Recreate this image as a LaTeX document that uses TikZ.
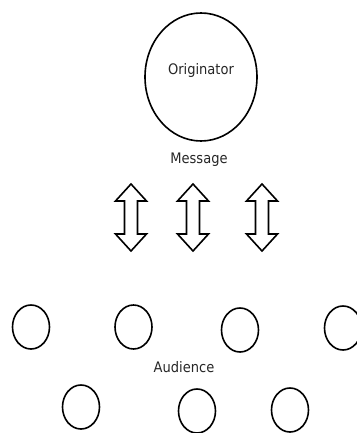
\documentclass[tikz,border=0pt]{standalone}
\usepackage{fontspec}
\setmainfont{DejaVu Sans Condensed}
\usetikzlibrary{shapes.geometric}
\tikzset{
  x=1pt, y=-1pt,
  lbl/.style={font=\fontsize{14.5}{16}\selectfont, inner sep=0pt, text=black!85},
  bigell/.style={draw, line width=1.6pt, ellipse, minimum width=112pt, minimum height=128pt, inner sep=0pt},
  aud/.style={draw, line width=1.6pt, ellipse, minimum width=37pt, minimum height=44pt, inner sep=0pt},
  arr/.style={draw, line width=1.6pt, line join=miter},
  dblarrow/.pic={\draw[arr] (0,-33.5) -- (15.5,-16.5) -- (6.5,-16.5) -- (6.5,16.5) -- (15.5,16.5) -- (0,33.5) -- (-15.5,16.5) -- (-6.5,16.5) -- (-6.5,-16.5) -- (-15.5,-16.5) -- cycle;}
}
\begin{document}
\begin{tikzpicture}
\useasboundingbox (0,0) rectangle (356,433);
\node[bigell] (orig) at (201,77) {};
\node[lbl] (origtxt) at (201,71) {Originator};
\node[lbl] (msg) at (199,160) {Message};
\pic (a1) at (131,217.5) {dblarrow};
\pic (a2) at (193,217.5) {dblarrow};
\pic (a3) at (262,217.5) {dblarrow};
\node[aud] (c1) at (31,327) {};
\node[aud] (c2) at (133.5,327) {};
\node[aud] (c3) at (240,330) {};
\node[aud] (c4) at (343,328) {};
\node[lbl] (audtxt) at (184,367) {Audience};
\node[aud] (c5) at (81,407) {};
\node[aud] (c6) at (197,411) {};
\node[aud] (c7) at (290,410) {};
\end{tikzpicture}
\end{document}
